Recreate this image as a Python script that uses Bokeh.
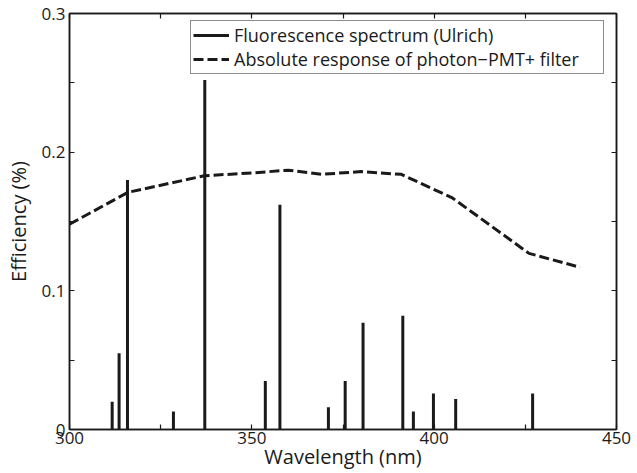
from bokeh.plotting import figure
from bokeh.models import Range1d, LinearAxis, FixedTicker, Legend, LegendItem
from bokeh.embed import file_html
from bokeh.resources import INLINE

# Fluorescence lines (Ulrich)
line_wl = [311.7, 313.6, 315.9, 328.5, 337.1, 353.7, 357.7, 371.0, 375.6,
           380.5, 391.4, 394.3, 399.8, 405.9, 427.0]
line_eff = [0.020, 0.055, 0.180, 0.013, 0.252, 0.035, 0.162, 0.016, 0.035,
            0.077, 0.082, 0.013, 0.026, 0.022, 0.026]
line_base = [0.0] * len(line_wl)

# Absolute response of photon-PMT + filter
resp_wl = [300, 316, 337, 350, 360, 369, 380, 391, 405, 426, 440]
resp_eff = [0.148, 0.171, 0.183, 0.185, 0.187, 0.184, 0.186, 0.184, 0.167,
            0.127, 0.117]

x_ticks = [300, 325, 350, 375, 400, 425, 450]
x_tick_labels = {300: "300", 325: "", 350: "350", 375: "", 400: "400", 425: "", 450: "450"}
y_ticks = [0.0, 0.05, 0.1, 0.15, 0.2, 0.25, 0.3]
y_tick_labels = {0.0: "0", 0.05: "", 0.1: "0.1", 0.15: "", 0.2: "0.2", 0.25: "", 0.3: "0.3"}
x_title = "Wavelength (nm)"
y_title = "Efficiency (%)"

FONT = "Open Sans"
INK = "#1a1a1a"

p = figure(width=637, height=473, output_backend="svg", toolbar_location=None,
           x_range=Range1d(300, 450), y_range=Range1d(0, 0.3),
           min_border_left=69, min_border_right=21, min_border_top=13,
           min_border_bottom=44, x_axis_label=x_title, y_axis_label=y_title)
p.grid.visible = False
p.outline_line_color = INK
p.outline_line_width = 1.5

r_lines = p.segment(x0=line_wl, y0=line_base, x1=line_wl, y1=line_eff,
                    line_color=INK, line_width=3)
r_resp = p.line(resp_wl, resp_eff, line_color=INK, line_width=3,
                line_dash="10 4")


def style_axis(ax, ticks, labels, show_labels=True):
    ax.ticker = FixedTicker(ticks=ticks)
    ax.major_tick_in = 5
    ax.major_tick_out = 0
    ax.minor_tick_in = 0
    ax.minor_tick_out = 0
    ax.axis_line_color = INK
    ax.axis_line_width = 1.5
    ax.major_tick_line_color = INK
    ax.major_tick_line_width = 1.2
    if show_labels:
        ax.major_label_overrides = labels
        ax.major_label_text_font = FONT
        ax.major_label_text_font_size = "17px"
        ax.major_label_text_color = INK
        ax.axis_label_text_font = FONT
        ax.axis_label_text_font_size = "20px"
        ax.axis_label_text_font_style = "normal"
        ax.axis_label_text_color = INK
    else:
        ax.major_label_overrides = {t: "" for t in ticks}
        ax.major_label_text_font_size = "0px"
        ax.major_label_standoff = 0


style_axis(p.xaxis[0], x_ticks, x_tick_labels)
p.xaxis[0].major_label_standoff = 2
p.xaxis[0].axis_label_standoff = -4
style_axis(p.yaxis[0], y_ticks, y_tick_labels)
p.yaxis[0].major_label_standoff = 4
p.yaxis[0].axis_label_standoff = 7

top = LinearAxis()
style_axis(top, x_ticks, x_tick_labels, show_labels=False)
p.add_layout(top, "above")
right = LinearAxis()
style_axis(right, y_ticks, y_tick_labels, show_labels=False)
p.add_layout(right, "right")

legend = Legend(items=[
    LegendItem(label="Fluorescence spectrum (Ulrich)", renderers=[r_lines]),
    LegendItem(label="Absolute response of photon\u2212PMT+ filter", renderers=[r_resp]),
])
legend.location = (121, 355)
legend.margin = 0
legend.padding = 2
legend.spacing = 0
legend.label_text_font = FONT
legend.label_text_font_size = "18px"
legend.label_text_color = INK
legend.label_height = 18
legend.glyph_height = 18
legend.glyph_width = 36
legend.label_standoff = 5
legend.label_width = 367
legend.border_line_color = INK
legend.border_line_width = 1.5
legend.background_fill_alpha = 1
p.add_layout(legend)

open("out.html", "w").write(file_html(p, INLINE))
